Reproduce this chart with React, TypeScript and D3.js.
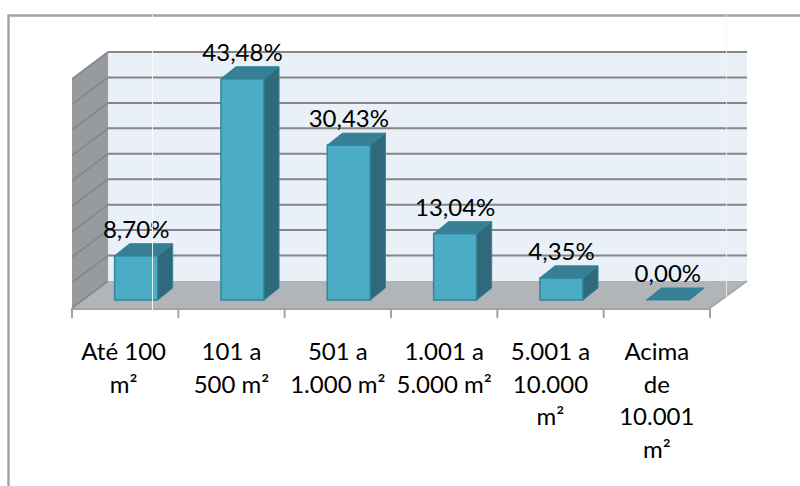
import React from "react";
import * as d3 from "d3";

const categories: string[][] = [
  ["Até 100", "m²"],
  ["101 a", "500 m²"],
  ["501 a", "1.000 m²"],
  ["1.001 a", "5.000 m²"],
  ["5.001 a", "10.000", "m²"],
  ["Acima", "de", "10.001", "m²"],
];
const values = [8.7, 43.48, 30.43, 13.04, 4.35, 0];
const valueLabels = ["8,70%", "43,48%", "30,43%", "13,04%", "4,35%", "0,00%"];
const gridTicks = d3.range(0, 50, 5);

const W = 800, H = 486;
const x0 = 72, x1 = 710, yFloor = 308, yTop = 79;
const depthX = 36, depthY = 27;
const barDepthX = 15, barDepthY = 12, barBaseLift = 8, barShift = 11;

const x = d3.scaleBand<number>().domain(d3.range(6)).range([x0, x1]).paddingInner(0).paddingOuter(0);
const y = d3.scaleLinear().domain([0, 45]).range([yFloor, yTop]);
const poly = (p: number[][]) => d3.line()(p as [number, number][]) + "Z";

const font = "Lato, Carlito, Calibri, sans-serif";

export default function App() {
  const grid = "#868686";
  return (
    <svg width={W} height={H} viewBox={`0 0 ${W} ${H}`}
      style={{ position: "absolute", left: 0, top: 0, background: "#fff" }}>
      {/* chart frame */}
      <path d="M8.5 486V15.5H800" fill="none" stroke="#a3a3a3" strokeWidth={2.4} />

      {/* back wall */}
      <rect x={x0 + depthX} y={yTop - depthY} width={x1 - x0 + 1} height={yFloor - yTop} fill="#e9f0f7" />
      {/* side wall */}
      <path d={poly([[x0, yTop], [x0 + depthX, yTop - depthY], [x0 + depthX, yFloor - depthY], [x0, yFloor]])} fill="#979b9d" />
      {/* floor */}
      <path d={poly([[x0, yFloor], [x0 + depthX, yFloor - depthY], [x1 + depthX + 1, yFloor - depthY], [x1, yFloor]])} fill="#b1b5b8" />

      {/* gridlines */}
      {gridTicks.map((t) => (
        <g key={t}>
          {t > 0 && <line x1={x0 + depthX} x2={x1 + depthX + 1} y1={y(t) - depthY} y2={y(t) - depthY} stroke={grid} strokeWidth={2} />}
          <line x1={x0} x2={x0 + depthX} y1={y(t)} y2={y(t) - depthY} stroke={grid} strokeWidth={1.6} />
        </g>
      ))}
      {/* right floor edge */}
      <line x1={x1} x2={x1 + depthX + 1} y1={yFloor} y2={yFloor - depthY} stroke="#a8a8a8" strokeWidth={2} />

      {/* category axis */}
      <line x1={x0} x2={x1} y1={yFloor + 1} y2={yFloor + 1} stroke="#a3a3a3" strokeWidth={2} />
      {d3.range(7).map((i) => {
        const tx = i < 6 ? x(i)! : x1;
        return <line key={i} x1={tx} x2={tx} y1={yFloor} y2={yFloor + 10} stroke="#a3a3a3" strokeWidth={2} />;
      })}

      {/* bars */}
      {values.map((v, i) => {
        const band = x.bandwidth();
        const bw = band * 0.405;
        const left = x(i)! + (band - bw) / 2 + barShift;
        const right = left + bw;
        const base = yFloor - barBaseLift;
        const top = base - (yFloor - y(v));
        const dx = barDepthX, dy = barDepthY;
        const topFace = poly([[left, top], [left + dx, top - dy], [right + dx, top - dy], [right, top]]);
        return (
          <g key={i}>
            {v > 0 && (
              <>
                <rect x={left} y={top} width={bw} height={base - top} fill="#4bacc6" stroke="#31859c" strokeWidth={1.5} />
                <path d={poly([[right, top], [right + dx, top - dy], [right + dx, base - dy], [right, base]])} fill="#31697c" stroke="#31859c" strokeWidth={1} />
              </>
            )}
            <path d={topFace} fill="#377f95" stroke="#31859c" strokeWidth={1} />
          </g>
        );
      })}

      {/* value labels */}
      {values.map((v, i) => (
        <text key={i} x={x(i)! + x.bandwidth() / 2 + barShift} y={yFloor - barBaseLift - (yFloor - y(v)) - barDepthY - 6}
          textAnchor="middle" fontFamily={font} fontSize={24} fill="#000">
          {valueLabels[i]}
        </text>
      ))}

      {/* category labels */}
      {categories.map((lines, i) => (
        <text key={i} textAnchor="middle" fontFamily={font} fontSize={24} fill="#000">
          {lines.map((l, j) => (
            <tspan key={j} x={x(i)! + x.bandwidth() / 2 - (i === 0 ? 1.5 : 0)} y={360 + j * 32.5}>{l}</tspan>
          ))}
        </text>
      ))}

      {/* faint vertical seams */}
      <line x1={152.5} x2={152.5} y1={15} y2={310} stroke="#fff" strokeOpacity={0.85} strokeWidth={1} />
      <line x1={726.5} x2={726.5} y1={15} y2={300} stroke="#f3f3f3" strokeOpacity={0.8} strokeWidth={1} />
    </svg>
  );
}
